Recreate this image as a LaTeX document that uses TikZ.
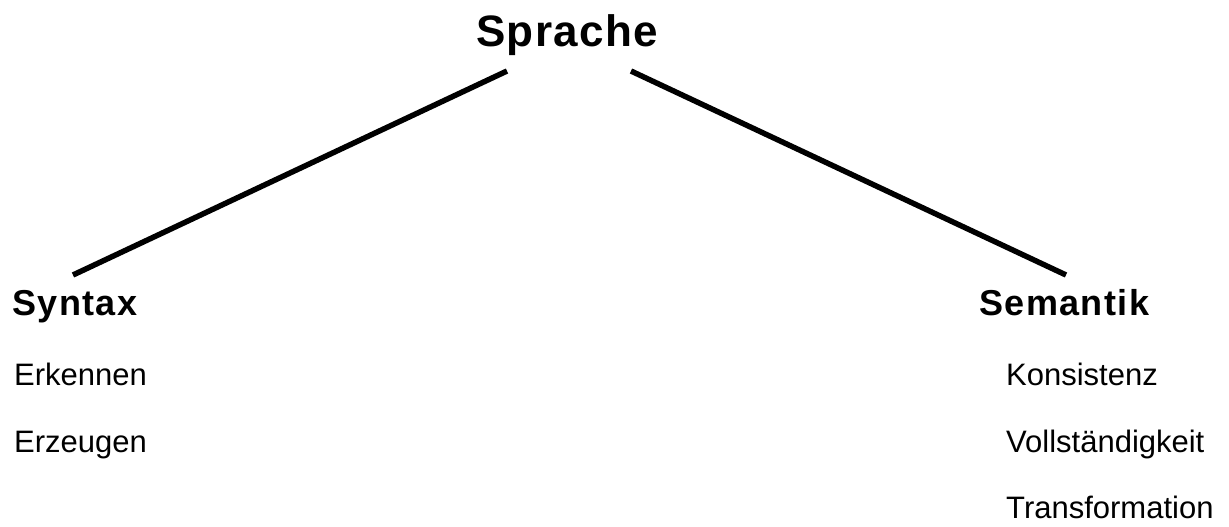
\documentclass[tikz,border=0pt]{standalone}
\usepackage{fontspec}
\setmainfont{Liberation Sans}
\newfontfamily\headfont[LetterSpace=3]{Liberation Sans}
\newfontfamily\branchfont[LetterSpace=4]{Liberation Sans}
\usetikzlibrary{positioning}

\tikzset{
    head/.style={inner sep=0pt, font=\headfont\bfseries\fontsize{44}{50}\selectfont},
    branch/.style={inner sep=0pt, anchor=base west, font=\branchfont\bfseries\fontsize{36}{42}\selectfont},
    item/.style={inner sep=0pt, anchor=base west, font=\fontsize{31}{36}\selectfont},
    edge/.style={line width=5.5pt}
}

\begin{document}
\begin{tikzpicture}[x=1pt,y=-1pt]
        \useasboundingbox (0,0) rectangle (1229,527);

        % Root
        \node[head, anchor=base] (sprache) at (567,47) {Sprache};

        % Branches
        \node[branch] (syntax) at (12,315) {Syntax};
        \node[branch] (semantik) at (979,315) {Semantik};

        % Items under Syntax
        \node[item] (erkennen) at (14,385) {Erkennen};
        \node[item] (erzeugen) at (14,452) {Erzeugen};

        % Items under Semantik
        \node[item] (konsistenz) at (1006,385) {Konsistenz};
        \node[item] (vollst) at (1006,452) {Vollständigkeit};
        \node[item] (transf) at (1006,518) {Transformation};

        % Line ends
        \coordinate (sprache-l) at (507,71);
        \coordinate (sprache-r) at (631,71);
        \coordinate (syntax-top) at (73,275);
        \coordinate (semantik-top) at (1066,275);

        % Connectors
        \draw[edge] (sprache-l) -- (syntax-top);
        \draw[edge] (sprache-r) -- (semantik-top);
    \end{tikzpicture}
\end{document}
